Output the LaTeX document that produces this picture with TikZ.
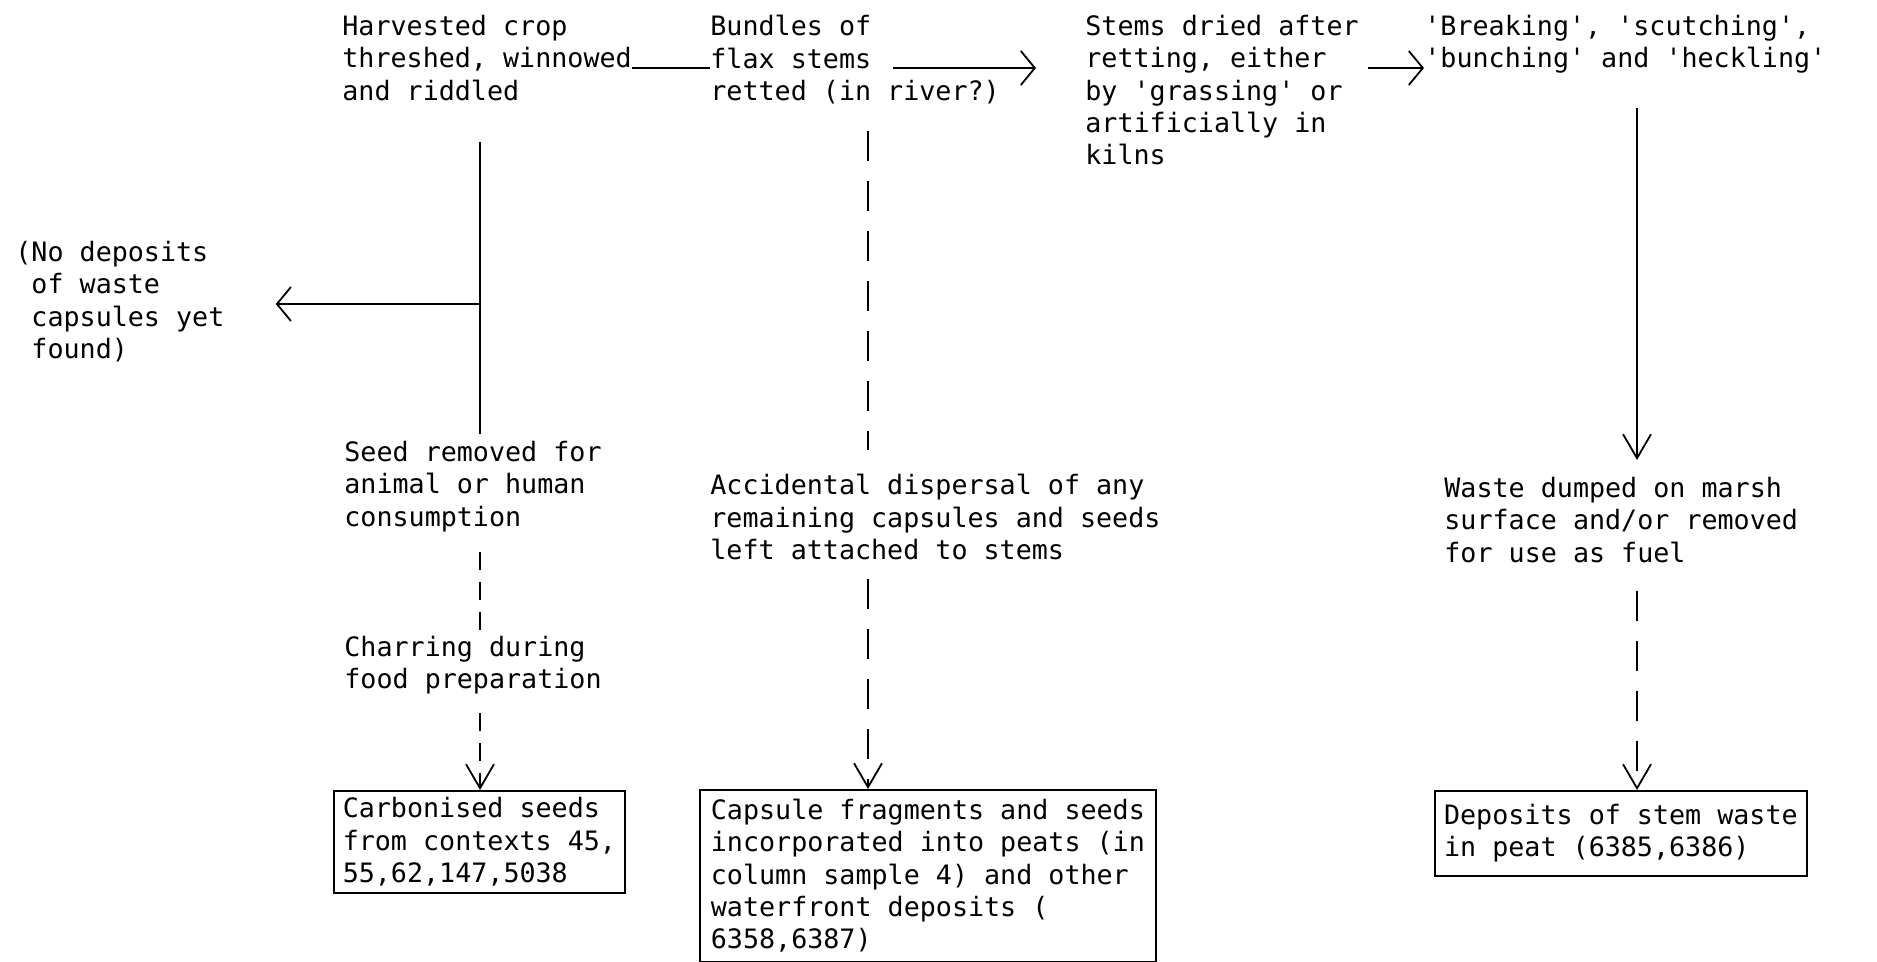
\documentclass[tikz,border=0pt]{standalone}
\usepackage{fontspec}
\setmonofont{DejaVu Sans Mono}
\usetikzlibrary{arrows.meta}

\newcommand{\ColA}{480}
\newcommand{\ColB}{868}
\newcommand{\ColE}{1637}
\newcommand{\RowY}{68}

\tikzset{
  txt/.style={anchor=north west,inner sep=0pt,align=left,
    font=\ttfamily\fontsize{13.35pt}{16.15pt}\selectfont},
  boxed/.style={txt,draw,line width=0.9pt},
  link/.style={line width=0.9pt},
  vtip/.style={-{Straight Barb[length=12pt,width=14pt]}},
  htip/.style={-{Straight Barb[length=7pt,width=17pt]}},
  longdash/.style={dash pattern=on 15pt off 10pt},
  shortdash/.style={dash pattern=on 9pt off 6pt}
}

\begin{document}
\begin{tikzpicture}[x=0.5pt,y=-0.5pt]
\useasboundingbox (0,0) rectangle (1877,962);

\coordinate (A) at (342,15);
\coordinate (B) at (710,15);
\coordinate (C) at (1085,15);
\coordinate (D) at (1424,15);
\coordinate (E) at (1444,477);
\coordinate (F) at (1434,790);
\coordinate (G) at (15,241);
\coordinate (H) at (344,441);
\coordinate (I) at (344,636);
\coordinate (J) at (333,790);
\coordinate (K) at (710,474);
\coordinate (L) at (699,789);

% helpers for the connectors
\coordinate (row) at (0,\RowY);
\coordinate (colA) at (\ColA,0);
\coordinate (colB) at (\ColB,0);
\coordinate (colE) at (\ColE,0);
\coordinate (fork) at (\ColA,304);
\coordinate (stemsend) at (893,\RowY);

\node[txt] (harvest) at (A) {Harvested crop\\threshed, winnowed\\and riddled};
\node[txt] (bundles) at (B) {Bundles of\\flax stems\\retted (in river?)};
\node[txt] (dried) at (C) {Stems dried after\\retting, either\\by 'grassing' or\\artificially in\\kilns};
\node[txt] (breaking) at (D) {'Breaking', 'scutching',\\'bunching' and 'heckling'};
\node[txt] (waste) at (E) {Waste dumped on marsh\\surface and/or removed\\for use as fuel};
\node[txt] (nodeposit) at (G) {(No deposits\\\hphantom{(}of waste\\\hphantom{(}capsules yet\\\hphantom{(}found)};
\node[txt] (seed) at (H) {Seed removed for\\animal or human\\consumption};
\node[txt] (charring) at (I) {Charring during\\food preparation};
\node[txt] (accidental) at (K) {Accidental dispersal of any\\remaining capsules and seeds\\left attached to stems};

\node[boxed,minimum width=145.5pt,minimum height=51pt] (carbonised) at (J) {Carbonised seeds\\from contexts 45,\\55,62,147,5038};
\node[boxed,minimum width=228pt,minimum height=86pt] (capsule) at (L) {Capsule fragments and seeds\\incorporated into peats (in\\column sample 4) and other\\waterfront deposits (\\6358,6387)};
\node[boxed,minimum width=186pt,minimum height=42.5pt] (deposits) at (F) {Deposits of stem waste\\in peat (6385,6386)};

\draw[link] (harvest.east |- row) -- (bundles.west |- row);% crop to bundles
\draw[link,htip,shorten >=24.5pt] (stemsend) -- (dried.west |- row);% retting to drying
\draw[link,htip,shorten <=4.5pt] (dried.east |- row) -- (breaking.west |- row);% drying to breaking
\draw[link,vtip,shorten <=17pt,shorten >=8.5pt] (breaking.south -| colE) -- (waste.north -| colE);
\draw[link,longdash,vtip,shorten <=14pt] (waste.south -| colE) -- (deposits.north -| colE);
\draw[link,shorten <=20.5pt,shorten >=3.5pt] (harvest.south -| colA) -- (seed.north -| colA);
\draw[link,htip,shorten >=25.5pt] (fork) -- (nodeposit.east |- fork);% no waste found
\draw[link,shortdash,shorten <=10pt] (seed.south -| colA) -- (charring.north -| colA);
\draw[link,shortdash,vtip,shorten <=9pt] (charring.south -| colA) -- (carbonised.north -| colA);
\draw[link,longdash,shorten <=13.5pt,shorten >=12pt] (bundles.south -| colB) -- (accidental.north -| colB);
\draw[link,longdash,vtip,shorten <=9.5pt] (accidental.south -| colB) -- (capsule.north -| colB);
\end{tikzpicture}
\end{document}
